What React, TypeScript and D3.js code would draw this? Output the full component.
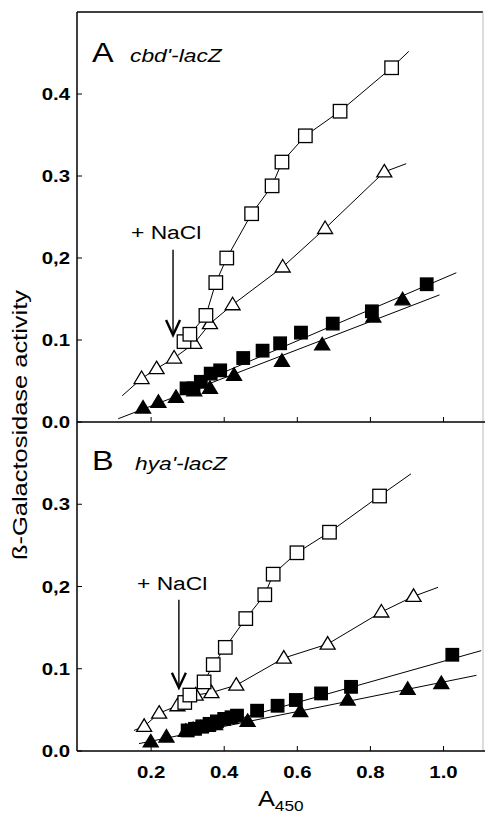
import * as d3 from 'd3'

const W = 485
const H = 816
const FONT = 'Liberation Sans, Arial, Helvetica, sans-serif'

// x axis (shared)
const xTicks = [0.2, 0.4, 0.6, 0.8, 1.0]
const xTickLabels = ['0.2', '0.4', '0.6', '0.8', '1.0']

// panel A: cbd'-lacZ
const aYTicks = [0, 0.1, 0.2, 0.3, 0.4]
const aYTickLabels = ['0.0', '0.1', '0,2', '0.3', '0.4']
const aOpenSq = [[0.29, 0.098], [0.306, 0.107], [0.35, 0.13], [0.377, 0.17], [0.407, 0.2], [0.475, 0.254], [0.531, 0.288], [0.558, 0.317], [0.622, 0.349], [0.717, 0.379], [0.858, 0.432]]
const aOpenSqEnd = [0.905, 0.452]
const aOpenTri = [[0.174, 0.053], [0.215, 0.065], [0.263, 0.078], [0.318, 0.096], [0.361, 0.12], [0.423, 0.143], [0.56, 0.189], [0.676, 0.236], [0.838, 0.305]]
const aOpenTriStart = [0.121, 0.032]
const aOpenTriEnd = [0.898, 0.315]
const aFillSq = [[0.297, 0.041], [0.316, 0.041], [0.336, 0.049], [0.363, 0.059], [0.389, 0.063], [0.452, 0.078], [0.505, 0.087], [0.553, 0.096], [0.61, 0.109], [0.697, 0.12], [0.804, 0.135], [0.954, 0.168]]
const aFillSqFit = [[0.28, 0.038], [1.035, 0.182]]
const aFillTri = [[0.178, 0.017], [0.22, 0.024], [0.268, 0.03], [0.318, 0.038], [0.361, 0.041], [0.427, 0.057], [0.558, 0.074], [0.668, 0.094], [0.808, 0.128], [0.888, 0.149]]
const aFillTriFit = [[0.11, 0.004], [0.989, 0.155]]
const aArrow = [0.26, 0.21, 0.106]

// panel B: hya'-lacZ
const bYTicks = [0, 0.1, 0.2, 0.3]
const bYTickLabels = ['0.0', '0.1', '0,2', '0.3']
const bOpenSq = [[0.292, 0.059], [0.306, 0.068], [0.345, 0.084], [0.37, 0.105], [0.403, 0.126], [0.459, 0.161], [0.511, 0.19], [0.534, 0.215], [0.599, 0.241], [0.688, 0.266], [0.825, 0.31]]
const bOpenSqEnd = [0.911, 0.337]
const bOpenTri = [[0.181, 0.03], [0.222, 0.046], [0.272, 0.055], [0.322, 0.068], [0.365, 0.071], [0.433, 0.08], [0.563, 0.113], [0.683, 0.13], [0.83, 0.169], [0.918, 0.188]]
const bOpenTriStart = [0.153, 0.025]
const bOpenTriEnd = [0.985, 0.199]
const bFillSq = [[0.3, 0.025], [0.32, 0.027], [0.34, 0.03], [0.36, 0.033], [0.38, 0.036], [0.4, 0.039], [0.42, 0.041], [0.435, 0.043], [0.49, 0.049], [0.546, 0.055], [0.596, 0.062], [0.665, 0.07], [0.747, 0.078], [1.024, 0.117]]
const bFillSqFit = [[0.28, 0.019], [1.103, 0.122]]
const bFillTri = [[0.199, 0.011], [0.242, 0.017], [0.295, 0.024], [0.315, 0.026], [0.335, 0.028], [0.355, 0.03], [0.375, 0.032], [0.464, 0.036], [0.608, 0.048], [0.738, 0.062], [0.902, 0.075], [0.994, 0.082]]
const bFillTriFit = [[0.167, 0.009], [1.09, 0.092]]
const bArrow = [0.276, 0.184, 0.077]

const x = d3.scaleLinear().domain([0, 1.108]).range([78, 483])
const yA = d3.scaleLinear().domain([0, 0.5]).range([422, 12])
const yB = d3.scaleLinear().domain([0, 0.4]).range([751, 422])

const line = (ys: d3.ScaleLinear<number, number>) =>
  d3.line<number[]>().x(d => x(d[0])).y(d => ys(d[1]))

function Square({ cx, cy, filled }: { cx: number; cy: number; filled: boolean }) {
  const s = filled ? 12.5 : 13.5
  return (
    <rect x={cx - s / 2} y={cy - s / 2} width={s} height={s}
      fill={filled ? '#000' : '#fff'} stroke="#000" strokeWidth={1.3} />
  )
}

function Triangle({ cx, cy, filled }: { cx: number; cy: number; filled: boolean }) {
  const w = 15, h = 12.5
  const d = `M${cx},${cy - h * 0.6}L${cx + w / 2},${cy + h * 0.4}L${cx - w / 2},${cy + h * 0.4}Z`
  return <path d={d} fill={filled ? '#000' : '#fff'} stroke="#000" strokeWidth={1.3} />
}

// horizontally stretched text, as in the scanned figure
function SText({ tx, ty, size, anchor = 'start', bold = false, italic = false, children }: any) {
  return (
    <text transform={`translate(${tx},${ty}) scale(1.2,1)`} fontSize={size} textAnchor={anchor}
      fontWeight={bold ? 'bold' : 'normal'} fontStyle={italic ? 'italic' : 'normal'}
      fontFamily={FONT} fill="#000">{children}</text>
  )
}

function Panel({ ys, yTicks, yLabels, openSq, openSqEnd, openTri, openTriStart, openTriEnd,
  fillSq, fillSqFit, fillTri, fillTriFit, arrow, letter, gene, nacl }: any) {
  const ln = line(ys)
  const ax = x(arrow[0])
  const a0 = ys(arrow[1])
  const a1 = ys(arrow[2])
  return (
    <g>
      {/* y ticks + labels */}
      {yTicks.map((t: number, i: number) => (
        <g key={i}>
          <line x1={77} x2={82} y1={ys(t)} y2={ys(t)} stroke="#000" strokeWidth={1} />
          <SText tx={70} ty={ys(t) + 6} size={17} anchor="end" bold>{yLabels[i]}</SText>
        </g>
      ))}
      {/* x ticks */}
      {xTicks.map((t, i) => (
        <line key={i} x1={x(t)} x2={x(t)} y1={ys(0)} y2={ys(0) - 5} stroke="#000" strokeWidth={1} />
      ))}
      {/* lines */}
      <g fill="none" stroke="#000" strokeWidth={1}>
        <path d={ln([...openSq, openSqEnd]) || ''} />
        <path d={ln([openTriStart, ...openTri, openTriEnd]) || ''} />
        <path d={ln(fillSqFit) || ''} />
        <path d={ln(fillTriFit) || ''} />
      </g>
      {/* markers */}
      {fillTri.map((p: number[], i: number) => <Triangle key={'ft' + i} cx={x(p[0])} cy={ys(p[1])} filled />)}
      {fillSq.map((p: number[], i: number) => <Square key={'fs' + i} cx={x(p[0])} cy={ys(p[1])} filled />)}
      {openTri.map((p: number[], i: number) => <Triangle key={'ot' + i} cx={x(p[0])} cy={ys(p[1])} filled={false} />)}
      {openSq.map((p: number[], i: number) => <Square key={'os' + i} cx={x(p[0])} cy={ys(p[1])} filled={false} />)}
      {/* NaCl arrow */}
      <line x1={ax} x2={ax} y1={a0} y2={a1} stroke="#000" strokeWidth={1.4} />
      <path d={`M${ax - 7},${a1 - 15}L${ax},${a1}L${ax + 7},${a1 - 15}`} fill="none" stroke="#000" strokeWidth={2.4} />
      <SText tx={nacl[0]} ty={nacl[1]} size={19}>+ NaCl</SText>
      {/* panel label */}
      <SText tx={letter[1]} ty={letter[2]} size={27}>{letter[0]}</SText>
      <SText tx={gene[1]} ty={gene[2]} size={19} italic>{gene[0]}</SText>
    </g>
  )
}

export default function App() {
  return (
    <svg width={W} height={H} style={{ position: 'absolute', left: 0, top: 0, display: 'block', background: '#fff' }}>
      <rect width={W} height={H} fill="#fff" />
      {/* frame */}
      <line x1={77} x2={77} y1={12} y2={751} stroke="#000" strokeWidth={1.5} />
      <line x1={77} x2={483} y1={12} y2={12} stroke="#000" strokeWidth={1.3} />
      <line x1={483} x2={483} y1={12} y2={751} stroke="#bbb" strokeWidth={1} />
      <line x1={77} x2={485} y1={422} y2={422} stroke="#000" strokeWidth={1.5} />
      <line x1={77} x2={485} y1={751} y2={751} stroke="#000" strokeWidth={1.5} />

      <Panel ys={yA} yTicks={aYTicks} yLabels={aYTickLabels}
        openSq={aOpenSq} openSqEnd={aOpenSqEnd}
        openTri={aOpenTri} openTriStart={aOpenTriStart} openTriEnd={aOpenTriEnd}
        fillSq={aFillSq} fillSqFit={aFillSqFit} fillTri={aFillTri} fillTriFit={aFillTriFit}
        arrow={aArrow} letter={['A', 92, 62]} gene={["cbd'-lacZ", 130, 62]} nacl={[131, 239]} />
      <Panel ys={yB} yTicks={bYTicks} yLabels={bYTickLabels}
        openSq={bOpenSq} openSqEnd={bOpenSqEnd}
        openTri={bOpenTri} openTriStart={bOpenTriStart} openTriEnd={bOpenTriEnd}
        fillSq={bFillSq} fillSqFit={bFillSqFit} fillTri={bFillTri} fillTriFit={bFillTriFit}
        arrow={bArrow} letter={['B', 92, 470]} gene={["hya'-lacZ", 135, 470]} nacl={[137, 590]} />

      {/* x tick labels */}
      {xTicks.map((t, i) => (
        <SText key={i} tx={x(t)} ty={778} size={17} anchor="middle" bold>{xTickLabels[i]}</SText>
      ))}
      {/* x axis title */}
      <text fontSize={22} fontFamily={FONT} transform="translate(258,806) scale(1.15,1)">
        A<tspan fontSize={15} dy={5}>450</tspan>
      </text>
      {/* y axis title */}
      <text transform="translate(27,425) rotate(-90)" fontSize={21} fontFamily={FONT} textAnchor="middle"
        textLength={270} lengthAdjust="spacingAndGlyphs">ß-Galactosidase activity</text>
    </svg>
  )
}
